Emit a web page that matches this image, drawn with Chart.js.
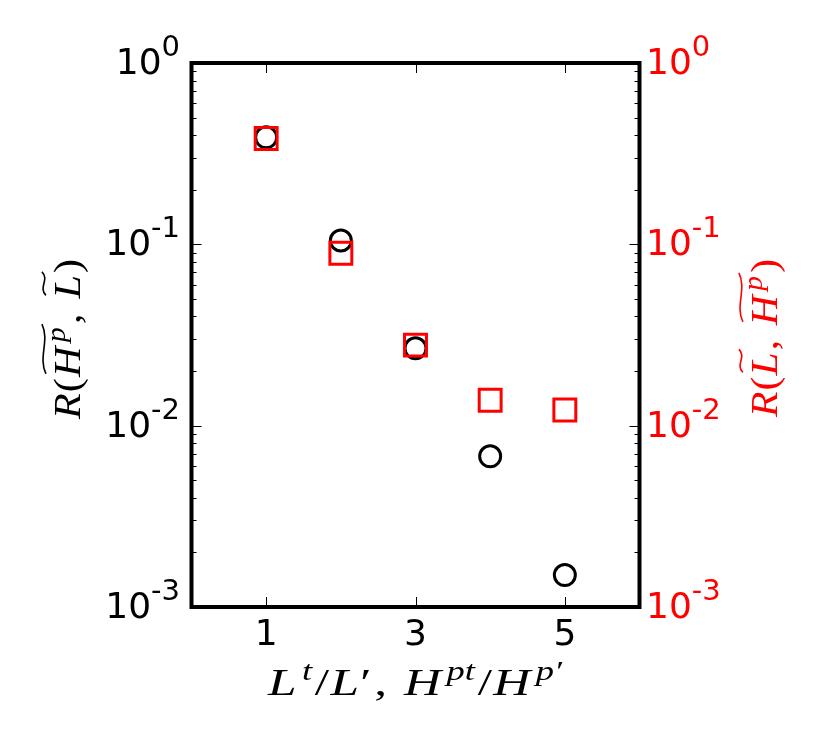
<!DOCTYPE html>
<html>
<head>
<meta charset="utf-8">
<script src="https://cdn.jsdelivr.net/npm/chart.js@4.4.1/dist/chart.umd.min.js"></script>
<style>
html, body { margin: 0; padding: 0; background: #fff; }
</style>
</head>
<body>
<canvas id="chart" width="830" height="755"></canvas>
<script>
// values
var ratioSteps = [1, 2, 3, 4, 5];
var rHpL = [0.389, 0.105, 0.0267, 0.00678, 0.00150];   // black circles, left axis
var rLHp = [0.383, 0.0892, 0.0278, 0.0138, 0.0122];    // red squares, right axis
var xTickValues = [1, 3, 5];
var yDecades = [-3, -2, -1, 0];

var RED = '#ff0000';
var SANS = '"DejaVu Sans", sans-serif';
var SERIF = '"Liberation Serif", "DejaVu Serif", serif';
var MATH = 38;

function pts(ys) {
    return ratioSteps.map(function (x, i) { return { x: x, y: ys[i] }; });
}

function fontFor(s) {
    if (s === 's') return 'italic ' + Math.round(MATH * 0.7) + 'px ' + SERIF;
    if (s === 'i') return 'italic ' + MATH + 'px ' + SERIF;
    return MATH + 'px ' + SERIF;
}
// pieces: [text, style, gapAfter, tildeGroup]; style i=italic r=roman s=superscript
function richWidth(ctx, pieces) {
    var w = 0;
    pieces.forEach(function (p) {
        ctx.font = fontFor(p[1]);
        w += ctx.measureText(p[0]).width + (p[2] || 0);
    });
    return w;
}
function drawRich(ctx, pieces, cx, baseY, target, color) {
    var nat = richWidth(ctx, pieces);
    var f = target / nat;
    ctx.save();
    ctx.translate(cx, baseY);
    ctx.scale(f, 1);
    var x = -nat / 2;
    var groups = {};
    ctx.fillStyle = color;
    ctx.strokeStyle = color;
    ctx.textBaseline = 'alphabetic';
    ctx.textAlign = 'left';
    pieces.forEach(function (p) {
        ctx.font = fontFor(p[1]);
        var w = ctx.measureText(p[0]).width;
        var y = p[1] === 's' ? -MATH * 0.4 : 0;
        ctx.fillText(p[0], x, y);
        if (p[3]) {
            if (!groups[p[3]]) groups[p[3]] = [x, x + w];
            groups[p[3]][1] = x + w;
        }
        x += w + (p[2] || 0);
    });
    Object.keys(groups).forEach(function (k) {
        var g = groups[k];
        var x0 = g[0] + 3, x1 = g[1] + 3, w = x1 - x0;
        var ty = -MATH * 0.66 - 11;
        ctx.lineWidth = 1.6;
        ctx.beginPath();
        ctx.moveTo(x0, ty + 2);
        ctx.bezierCurveTo(x0 + w / 3, ty - 6, x0 + 2 * w / 3, ty + 6, x1, ty - 2);
        ctx.stroke();
    });
    ctx.restore();
}

function drawPow(ctx, exp, x, tickY, align, color) {
    var base = '10';
    var sup = exp === 0 ? '0' : '-' + Math.abs(exp);
    ctx.textBaseline = 'alphabetic';
    ctx.textAlign = 'left';
    ctx.font = '36px ' + SANS;
    var wb = ctx.measureText(base).width;
    ctx.font = '29px ' + SANS;
    var ws = ctx.measureText(sup).width;
    var start = align === 'right' ? x - (wb + ws) : x;
    ctx.fillStyle = color;
    ctx.font = '36px ' + SANS;
    ctx.fillText(base, start, tickY + 11);
    ctx.font = '29px ' + SANS;
    ctx.fillText(sup, start + wb, tickY - 7);
}

var framePlugin = {
    id: 'frame',
    afterDraw: function (chart) {
        var ctx = chart.ctx;
        var a = chart.chartArea;
        var sx = chart.scales.x, sy = chart.scales.y, sy2 = chart.scales.y2;
        ctx.save();

        // inward ticks
        ctx.strokeStyle = '#000';
        ctx.lineWidth = 1;
        ctx.beginPath();
        xTickValues.forEach(function (v) {
            var px = Math.round(sx.getPixelForValue(v)) + 0.5;
            ctx.moveTo(px, a.bottom); ctx.lineTo(px, a.bottom - 10);
            ctx.moveTo(px, a.top); ctx.lineTo(px, a.top + 10);
        });
        yDecades.forEach(function (d) {
            for (var m = 1; m <= 9; m++) {
                var v = m * Math.pow(10, d);
                if (v > 1.0001) break;
                var len = m === 1 ? 10 : 5;
                var p1 = Math.round(sy.getPixelForValue(v)) + 0.5;
                var p2 = Math.round(sy2.getPixelForValue(v)) + 0.5;
                ctx.moveTo(a.left, p1); ctx.lineTo(a.left + len, p1);
                ctx.moveTo(a.right, p2); ctx.lineTo(a.right - len, p2);
            }
        });
        ctx.stroke();

        // frame
        ctx.lineWidth = 4;
        ctx.strokeRect(a.left, a.top, a.right - a.left, a.bottom - a.top);

        // tick labels
        ctx.fillStyle = '#000';
        ctx.font = '36px ' + SANS;
        ctx.textAlign = 'center';
        ctx.textBaseline = 'alphabetic';
        xTickValues.forEach(function (v) {
            ctx.fillText(String(v), sx.getPixelForValue(v), 645);
        });
        yDecades.forEach(function (d) {
            drawPow(ctx, d, 180, sy.getPixelForValue(Math.pow(10, d)), 'right', '#000');
            drawPow(ctx, d, 646, sy2.getPixelForValue(Math.pow(10, d)), 'left', RED);
        });

        // axis titles
        drawRich(ctx, [
            ['L', 'i', 4], ['t', 's', 2], ['/', 'r', 1], ['L', 'i', 1], ['\u2032', 'r', 2], [', ', 'r', 3],
            ['H', 'i', 4], ['pt', 's', 2], ['/', 'r', 1], ['H', 'i', 4], ['p\u2032', 's', 0]
        ], 415, 695, 294, '#000');

        ctx.save();
        ctx.translate(80, 339);
        ctx.rotate(-Math.PI / 2);
        drawRich(ctx, [
            ['R', 'i', 1], ['(', 'r', 1], ['H', 'i', 4, 'a'], ['p', 's', 3, 'a'], [', ', 'r', 4],
            ['L', 'i', 2, 'b'], [')', 'r', 0]
        ], 0, 0, 160, '#000');
        ctx.restore();

        ctx.save();
        ctx.translate(777, 338);
        ctx.rotate(-Math.PI / 2);
        drawRich(ctx, [
            ['R', 'i', 1], ['(', 'r', 1], ['L', 'i', 2, 'a'], [', ', 'r', 4],
            ['H', 'i', 4, 'b'], ['p', 's', 3, 'b'], [')', 'r', 0]
        ], 0, 0, 158, RED);
        ctx.restore();

        ctx.restore();
    }
};

new Chart(document.getElementById('chart'), {
    type: 'scatter',
    data: {
        datasets: [{
            label: 'R(L, Hp)',
            data: pts(rLHp),
            yAxisID: 'y2',
            pointStyle: 'rect',
            radius: 15.5,
            borderWidth: 3,
            borderColor: RED,
            backgroundColor: 'rgba(0,0,0,0)'
        }, {
            label: 'R(Hp, L)',
            data: pts(rHpL),
            yAxisID: 'y',
            pointStyle: 'circle',
            radius: 10.5,
            borderWidth: 3,
            borderColor: '#000',
            backgroundColor: 'rgba(255,255,255,0)'
        }]
    },
    options: {
        responsive: false,
        animation: false,
        layout: { padding: { top: 63, left: 0, right: 0, bottom: 0 } },
        plugins: { legend: { display: false }, tooltip: { enabled: false } },
        scales: {
            x: {
                type: 'linear', min: 0, max: 6,
                grid: { display: false }, border: { display: false },
                ticks: { display: false },
                afterFit: function (s) { s.height = 148; }
            },
            y: {
                type: 'logarithmic', position: 'left', min: 0.001, max: 1,
                grid: { display: false }, border: { display: false },
                ticks: { display: false },
                afterFit: function (s) { s.width = 191.5; }
            },
            y2: {
                type: 'logarithmic', position: 'right', min: 0.001, max: 1,
                grid: { display: false }, border: { display: false },
                ticks: { display: false },
                afterFit: function (s) { s.width = 190.5; }
            }
        }
    },
    plugins: [framePlugin]
});
</script>
</body>
</html>
